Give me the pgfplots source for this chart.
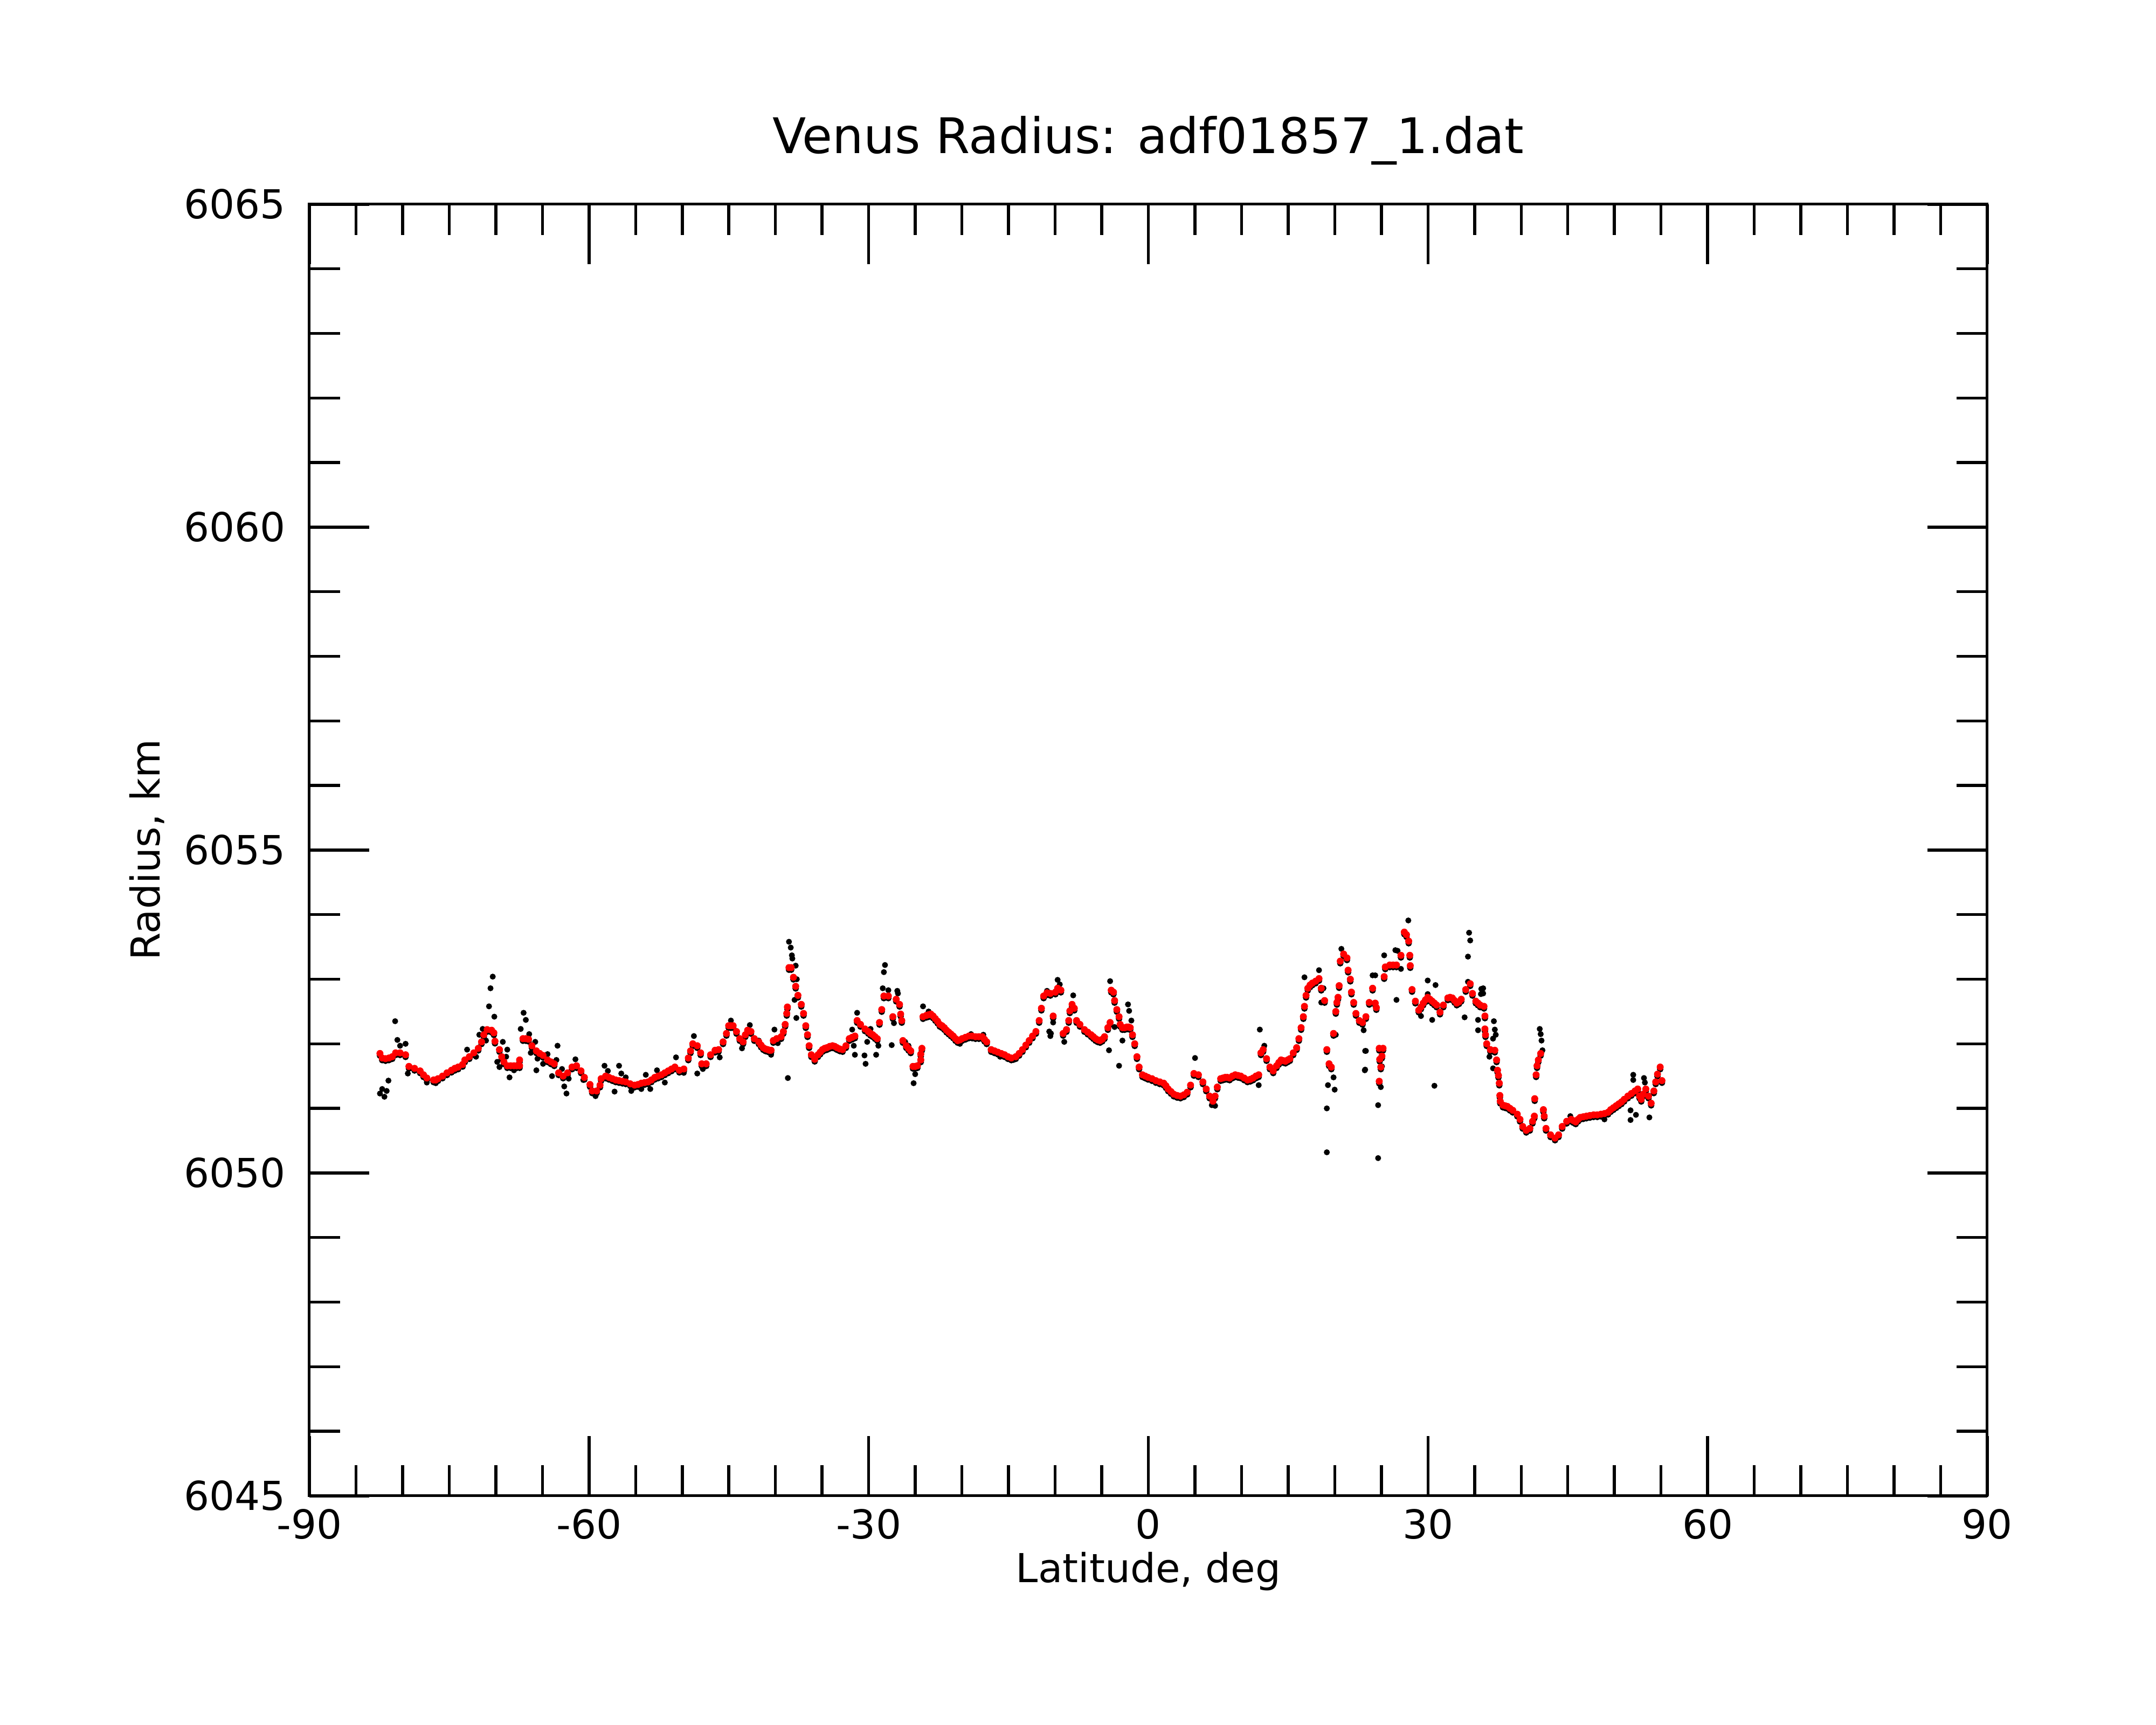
\documentclass[border=0pt]{standalone}
\usepackage{fontspec}
\setmainfont{DejaVu Sans}
\usepackage{pgfplots}
\pgfplotsset{compat=1.18}
\usepackage{pgfplotstable}

\pgfplotstableread{
lat r
-82.43 6051.85
-82.19 6051.78
-81.83 6051.77
-81.47 6051.78
-81.11 6051.80
-80.75 6051.86
-80.27 6051.86
-79.68 6051.83
-79.32 6051.65
-78.72 6051.62
-78.12 6051.58
-77.76 6051.52
-77.40 6051.47
-76.68 6051.44
-76.44 6051.44
-76.20 6051.46
-75.72 6051.50
-75.24 6051.55
-74.76 6051.59
-74.40 6051.62
-74.04 6051.64
-73.56 6051.68
-73.32 6051.75
-72.84 6051.80
-72.36 6051.86
-71.88 6051.93
-71.53 6052.03
-71.29 6052.14
-70.93 6052.22
-70.45 6052.21
-70.21 6052.17
-70.09 6052.04
-69.61 6051.91
-69.37 6051.80
-69.13 6051.72
-68.77 6051.66
-68.41 6051.66
-68.05 6051.66
-67.75 6051.66
-67.45 6051.66
-67.45 6051.75
-67.09 6052.08
-66.79 6052.08
-66.49 6052.07
-66.13 6051.97
-65.65 6051.89
-65.29 6051.85
-64.93 6051.82
-64.45 6051.75
-64.09 6051.72
-63.73 6051.69
-63.26 6051.55
-62.78 6051.50
-62.30 6051.55
-61.82 6051.64
-61.34 6051.66
-60.86 6051.58
-60.50 6051.48
-59.90 6051.37
-59.66 6051.27
-59.18 6051.27
-58.82 6051.36
-58.70 6051.46
-58.22 6051.50
-57.86 6051.48
-57.50 6051.46
-57.14 6051.44
-56.78 6051.43
-56.42 6051.42
-56.06 6051.41
-55.58 6051.38
-55.11 6051.36
-54.75 6051.37
-54.39 6051.39
-54.03 6051.40
-53.67 6051.41
-53.31 6051.44
-52.95 6051.48
-52.59 6051.50
-52.23 6051.52
-51.87 6051.55
-51.51 6051.58
-51.15 6051.61
-50.79 6051.64
-50.31 6051.59
-49.83 6051.61
-49.35 6051.78
-49.11 6051.89
-48.87 6052.00
-48.39 6051.97
-48.03 6051.86
-47.91 6051.69
-47.43 6051.69
-46.96 6051.83
-46.48 6051.90
-46.10 6051.91
-45.62 6052.03
-45.26 6052.16
-45.02 6052.28
-44.78 6052.28
-44.54 6052.28
-44.18 6052.19
-43.83 6052.08
-43.47 6052.03
-43.23 6052.14
-42.99 6052.21
-42.63 6052.19
-42.27 6052.08
-41.79 6052.03
-41.55 6051.98
-41.31 6051.94
-41.07 6051.92
-40.83 6051.91
-40.65 6051.90
-40.47 6051.90
-40.23 6052.05
-39.87 6052.08
-39.39 6052.11
-39.15 6052.19
-38.96 6052.30
-38.79 6052.47
-38.72 6052.57
-38.55 6053.18
-38.31 6053.18
-38.07 6053.03
-37.83 6052.89
-37.59 6052.75
-37.23 6052.61
-36.99 6052.47
-36.75 6052.28
-36.56 6052.14
-36.39 6051.97
-36.15 6051.83
-35.79 6051.76
-35.44 6051.83
-35.20 6051.87
-34.96 6051.91
-34.72 6051.93
-34.48 6051.94
-34.18 6051.96
-33.88 6051.97
-33.64 6051.96
-33.40 6051.94
-33.10 6051.92
-32.80 6051.91
-32.44 6051.97
-32.08 6052.08
-31.78 6052.10
-31.48 6052.12
-31.24 6052.36
-30.88 6052.30
-30.40 6052.23
-30.04 6052.19
-29.80 6052.16
-29.56 6052.14
-29.32 6052.11
-29.08 6052.08
-28.84 6052.33
-28.60 6052.53
-28.37 6052.74
-27.89 6052.74
-27.41 6052.42
-27.05 6052.69
-26.69 6052.61
-26.57 6052.46
-26.45 6052.36
-26.33 6052.05
-25.97 6051.97
-25.73 6051.93
-25.49 6051.89
-25.25 6051.65
-25.01 6051.65
-24.77 6051.66
-24.41 6051.75
-24.41 6051.84
-24.29 6051.93
-24.17 6052.42
-23.81 6052.44
-23.57 6052.45
-23.33 6052.46
-23.09 6052.43
-22.85 6052.39
-22.61 6052.35
-22.37 6052.30
-22.13 6052.28
-21.89 6052.25
-21.65 6052.21
-21.41 6052.18
-21.17 6052.15
-20.93 6052.12
-20.69 6052.08
-20.45 6052.05
-20.21 6052.06
-19.98 6052.08
-19.62 6052.10
-19.26 6052.12
-18.90 6052.12
-18.54 6052.11
-18.18 6052.11
-17.82 6052.11
-17.58 6052.07
-17.34 6052.03
-16.86 6051.91
-16.50 6051.89
-16.14 6051.87
-15.78 6051.85
-15.42 6051.83
-15.06 6051.80
-14.70 6051.78
-14.22 6051.80
-13.86 6051.85
-13.50 6051.91
-13.14 6051.98
-12.78 6052.05
-12.42 6052.12
-12.06 6052.19
-11.71 6052.36
-11.47 6052.55
-11.23 6052.74
-10.87 6052.79
-10.51 6052.78
-10.21 6052.43
-9.97 6052.80
-9.73 6052.86
-9.38 6052.83
-9.14 6052.16
-8.78 6052.22
-8.54 6052.36
-8.42 6052.51
-8.18 6052.61
-7.94 6052.55
-7.70 6052.36
-7.34 6052.30
-6.86 6052.22
-6.50 6052.18
-6.14 6052.14
-5.90 6052.11
-5.66 6052.08
-5.42 6052.06
-5.18 6052.05
-4.94 6052.07
-4.70 6052.11
-4.34 6052.25
-4.10 6052.33
-3.98 6052.83
-3.74 6052.80
-3.62 6052.67
-3.38 6052.53
-3.14 6052.42
-3.02 6052.30
-2.78 6052.25
-2.54 6052.25
-2.30 6052.26
-2.12 6052.26
-1.94 6052.25
-1.70 6052.14
-1.46 6052.00
-1.22 6051.80
-0.99 6051.64
-0.63 6051.52
-0.33 6051.50
-0.03 6051.48
0.39 6051.46
0.81 6051.43
1.23 6051.41
1.65 6051.39
1.89 6051.35
2.13 6051.30
2.43 6051.26
2.73 6051.22
3.09 6051.20
3.45 6051.19
3.81 6051.21
4.17 6051.25
4.53 6051.36
4.89 6051.54
5.37 6051.52
5.85 6051.41
6.21 6051.30
6.57 6051.19
6.93 6051.11
7.16 6051.19
7.40 6051.33
7.76 6051.46
8.00 6051.47
8.24 6051.48
8.48 6051.48
8.72 6051.47
9.02 6051.50
9.32 6051.52
9.62 6051.51
9.92 6051.50
10.28 6051.47
10.64 6051.44
10.94 6051.45
11.24 6051.47
11.54 6051.50
11.84 6051.52
12.08 6051.86
12.32 6051.91
12.68 6051.77
13.04 6051.64
13.40 6051.58
13.76 6051.66
14.00 6051.71
14.24 6051.75
14.47 6051.74
14.71 6051.73
14.95 6051.75
15.19 6051.77
15.55 6051.86
15.91 6051.94
16.15 6052.08
16.39 6052.25
16.63 6052.42
16.75 6052.58
16.92 6052.75
17.11 6052.86
17.35 6052.91
17.59 6052.94
17.95 6052.97
18.31 6053.01
18.55 6052.86
18.91 6052.67
19.15 6051.91
19.39 6051.69
19.63 6051.64
19.87 6052.16
20.11 6052.50
20.23 6052.64
20.35 6052.72
20.47 6052.90
20.59 6053.28
20.95 6053.39
21.31 6053.33
21.43 6053.14
21.67 6053.00
21.79 6052.80
22.03 6052.64
22.27 6052.47
22.63 6052.36
22.98 6052.33
23.34 6052.42
23.70 6052.64
24.06 6052.86
24.34 6052.63
24.46 6052.56
24.77 6051.93
24.82 6051.76
24.94 6051.64
24.77 6051.42
25.06 6051.81
25.18 6051.93
25.30 6053.04
25.42 6053.19
25.90 6053.22
26.26 6053.22
26.62 6053.22
27.10 6053.37
27.46 6053.73
27.69 6053.69
27.93 6053.59
28.05 6053.37
28.10 6053.21
28.29 6052.84
28.65 6052.66
29.01 6052.52
29.25 6052.57
29.49 6052.63
29.73 6052.68
29.97 6052.72
30.21 6052.69
30.45 6052.66
30.69 6052.63
30.93 6052.60
31.29 6052.49
31.65 6052.60
32.13 6052.71
32.37 6052.72
32.61 6052.71
32.85 6052.67
33.09 6052.63
33.33 6052.65
33.57 6052.69
34.05 6052.84
34.53 6052.93
34.77 6052.78
35.13 6052.66
35.36 6052.63
35.60 6052.60
36.01 6052.58
36.11 6052.43
36.11 6052.23
36.17 6052.14
36.30 6052.00
36.69 6051.91
37.17 6051.90
37.36 6051.75
37.46 6051.59
37.56 6051.51
37.65 6051.39
37.71 6051.20
37.75 6051.11
38.04 6051.05
38.28 6051.04
38.52 6051.03
38.80 6051.00
39.10 6050.97
39.58 6050.91
39.87 6050.83
40.16 6050.72
40.54 6050.66
40.93 6050.69
41.22 6050.80
41.41 6050.88
41.45 6051.15
41.60 6051.52
41.70 6051.66
41.84 6051.75
42.09 6051.85
42.38 6050.98
42.47 6050.88
42.66 6050.69
43.15 6050.59
43.63 6050.54
44.01 6050.59
44.40 6050.72
44.88 6050.80
45.36 6050.83
45.60 6050.81
45.85 6050.79
46.10 6050.83
46.33 6050.86
46.66 6050.87
47.00 6050.88
47.38 6050.89
47.77 6050.90
48.16 6050.90
48.55 6050.91
48.93 6050.92
49.32 6050.94
49.60 6050.98
49.89 6051.01
50.18 6051.04
50.47 6051.07
50.76 6051.10
51.05 6051.14
51.44 6051.19
51.82 6051.23
52.21 6051.27
52.50 6051.30
52.69 6051.19
52.88 6051.14
53.08 6051.22
53.37 6051.30
53.66 6051.19
53.94 6051.08
54.23 6051.27
54.43 6051.41
54.62 6051.53
54.91 6051.64
55.10 6051.43
}\redtab

\pgfplotstableread{
lat r
-82.43 6051.23
-82.19 6051.30
-81.95 6051.18
-81.71 6051.27
-81.52 6051.43
-81.23 6051.76
-80.80 6052.35
-80.56 6052.06
-80.27 6051.97
-79.68 6052.00
-79.44 6051.54
-77.40 6051.40
-76.44 6051.39
-73.08 6051.91
-72.12 6051.80
-71.77 6052.14
-71.41 6052.23
-71.05 6052.05
-70.73 6052.58
-70.57 6052.86
-70.33 6053.04
-70.16 6052.42
-69.85 6051.72
-69.61 6051.64
-69.25 6052.03
-68.77 6051.91
-68.89 6051.80
-68.53 6051.48
-68.05 6051.59
-67.02 6052.48
-66.78 6052.37
-67.33 6052.23
-66.42 6052.15
-65.77 6052.03
-66.25 6051.86
-65.53 6051.77
-65.65 6051.59
-64.93 6051.69
-64.45 6051.84
-63.50 6051.75
-63.38 6051.97
-63.97 6051.50
-62.90 6051.61
-62.66 6051.34
-62.42 6051.23
-62.18 6051.46
-61.46 6051.76
-60.62 6051.44
-59.90 6051.33
-59.30 6051.19
-58.34 6051.66
-57.98 6051.58
-57.26 6051.26
-56.78 6051.66
-56.54 6051.54
-56.06 6051.48
-55.47 6051.27
-54.39 6051.30
-53.91 6051.52
-53.43 6051.30
-52.71 6051.59
-51.87 6051.40
-50.67 6051.79
-49.83 6051.55
-48.75 6052.12
-48.39 6051.54
-47.79 6051.61
-45.98 6051.79
-44.78 6052.36
-43.59 6051.93
-42.75 6052.29
-41.79 6052.05
-40.47 6051.83
-40.11 6052.22
-39.75 6052.01
-38.67 6051.47
-38.55 6053.58
-38.36 6053.49
-38.24 6053.37
-38.19 6053.32
-37.83 6053.21
-37.71 6053.00
-37.95 6052.68
-37.76 6052.40
-31.24 6052.48
-31.77 6052.22
-31.48 6051.83
-31.60 6051.97
-30.45 6051.82
-30.33 6051.69
-30.16 6052.03
-29.80 6052.23
-29.20 6051.83
-28.96 6051.97
-28.25 6053.22
-28.37 6053.11
-28.49 6052.86
-27.89 6052.83
-26.93 6052.82
-26.86 6052.78
-27.29 6052.32
-27.53 6051.98
-26.09 6052.03
-25.73 6051.97
-25.01 6051.53
-25.18 6051.39
-24.17 6052.58
-23.57 6052.50
-22.13 6052.28
-20.21 6052.00
-19.02 6052.15
-17.70 6052.14
-15.90 6051.80
-14.46 6051.75
-10.87 6052.82
-10.63 6052.19
-10.51 6052.12
-10.81 6052.80
-9.73 6052.99
-9.50 6052.92
-10.21 6052.33
-10.45 6052.16
-9.02 6052.03
-8.06 6052.75
-4.10 6052.97
-4.22 6051.90
-3.14 6051.66
-2.18 6052.61
-2.06 6052.51
-1.82 6052.36
-2.78 6052.05
-3.62 6052.26
5.01 6051.78
6.81 6051.05
7.16 6051.04
11.96 6052.22
11.84 6051.36
12.44 6051.97
16.75 6053.03
18.31 6053.14
18.79 6052.86
18.55 6052.64
19.15 6051.00
19.27 6051.36
19.87 6051.48
19.99 6051.29
19.15 6050.32
20.11 6052.14
20.71 6053.47
23.10 6052.21
23.34 6051.89
23.22 6051.59
24.06 6053.06
23.26 6051.89
23.26 6051.60
24.65 6051.05
24.65 6050.23
24.94 6051.33
25.06 6051.65
24.34 6053.06
26.62 6052.68
26.74 6053.44
26.50 6053.45
25.30 6053.37
27.10 6053.16
27.89 6053.91
29.97 6052.98
30.81 6052.91
30.45 6052.37
30.69 6051.35
29.25 6052.43
29.97 6052.77
33.93 6052.41
34.29 6052.96
34.41 6053.72
34.53 6053.60
34.29 6053.35
35.72 6052.85
35.68 6052.77
35.37 6052.37
35.37 6052.21
35.92 6052.86
35.92 6052.78
37.07 6052.35
37.17 6052.22
37.27 6052.14
36.98 6052.08
36.59 6051.80
36.98 6051.62
41.99 6052.23
42.09 6052.15
42.18 6052.05
42.28 6051.90
45.27 6050.88
48.93 6050.83
51.63 6051.19
51.73 6050.97
51.73 6050.82
52.02 6051.52
52.02 6051.44
52.31 6050.90
53.17 6051.47
53.27 6051.40
53.75 6050.86
}\blacktab

\begin{document}
\begin{tikzpicture}
\useasboundingbox (0,0) rectangle (400pt,320pt);
\begin{axis}[
  at={(57.4pt,42.5pt)}, anchor=south west,
  scale only axis, width=311.3pt, height=239.6pt,
  xmin=-90, xmax=90, ymin=6045, ymax=6065,
  xtick={-90,-60,-30,0,30,60,90},
  xticklabels={-90,-60,-30,0,30,60,90},
  ytick={6045,6050,6055,6060,6065},
  yticklabels={6045,6050,6055,6060,6065},
  minor x tick num=5, minor y tick num=4,
  tick align=inside, xtick pos=both, ytick pos=both,
  xticklabel pos=lower, yticklabel pos=left,
  major tick length=11.1pt, minor tick length=5.7pt,
  every tick/.style={black, line width=0.55pt},
  axis line style={line width=0.5pt},
  tick label style={font=\fontsize{7.4}{9}\selectfont},
  xticklabel style={anchor=base, yshift=-8pt},
  yticklabel style={anchor=east, inner sep=0pt, xshift=-4.2pt},
  label style={font=\fontsize{7.4}{9}\selectfont},
  every axis title shift=0pt,
  title={Venus Radius: adf01857\_1.dat},
  title style={font=\fontsize{9.1}{11}\selectfont, at={(axis description cs:0.5,1.0396)}, anchor=base},
  xlabel={Latitude, deg},
  xlabel style={at={(axis description cs:0.5,-0.0672)}, anchor=base},
  ylabel={Radius, km},
  ylabel style={at={(axis description cs:-0.0890,0.5)}, anchor=base},
]
\addplot[only marks, mark=*, mark size=0.55pt, black,
  mark options={fill=black, line width=0.1pt, yshift=-0.4pt}] table[x=lat,y=r]{\redtab};
\addplot[only marks, mark=*, mark size=0.5pt, black,
  mark options={fill=black, line width=0.1pt}] table[x=lat,y=r]{\blacktab};
\addplot[only marks, mark=*, mark size=0.6pt, red,
  mark options={fill=red, line width=0.1pt}] table[x=lat,y=r]{\redtab};
\end{axis}
\end{tikzpicture}
\end{document}
